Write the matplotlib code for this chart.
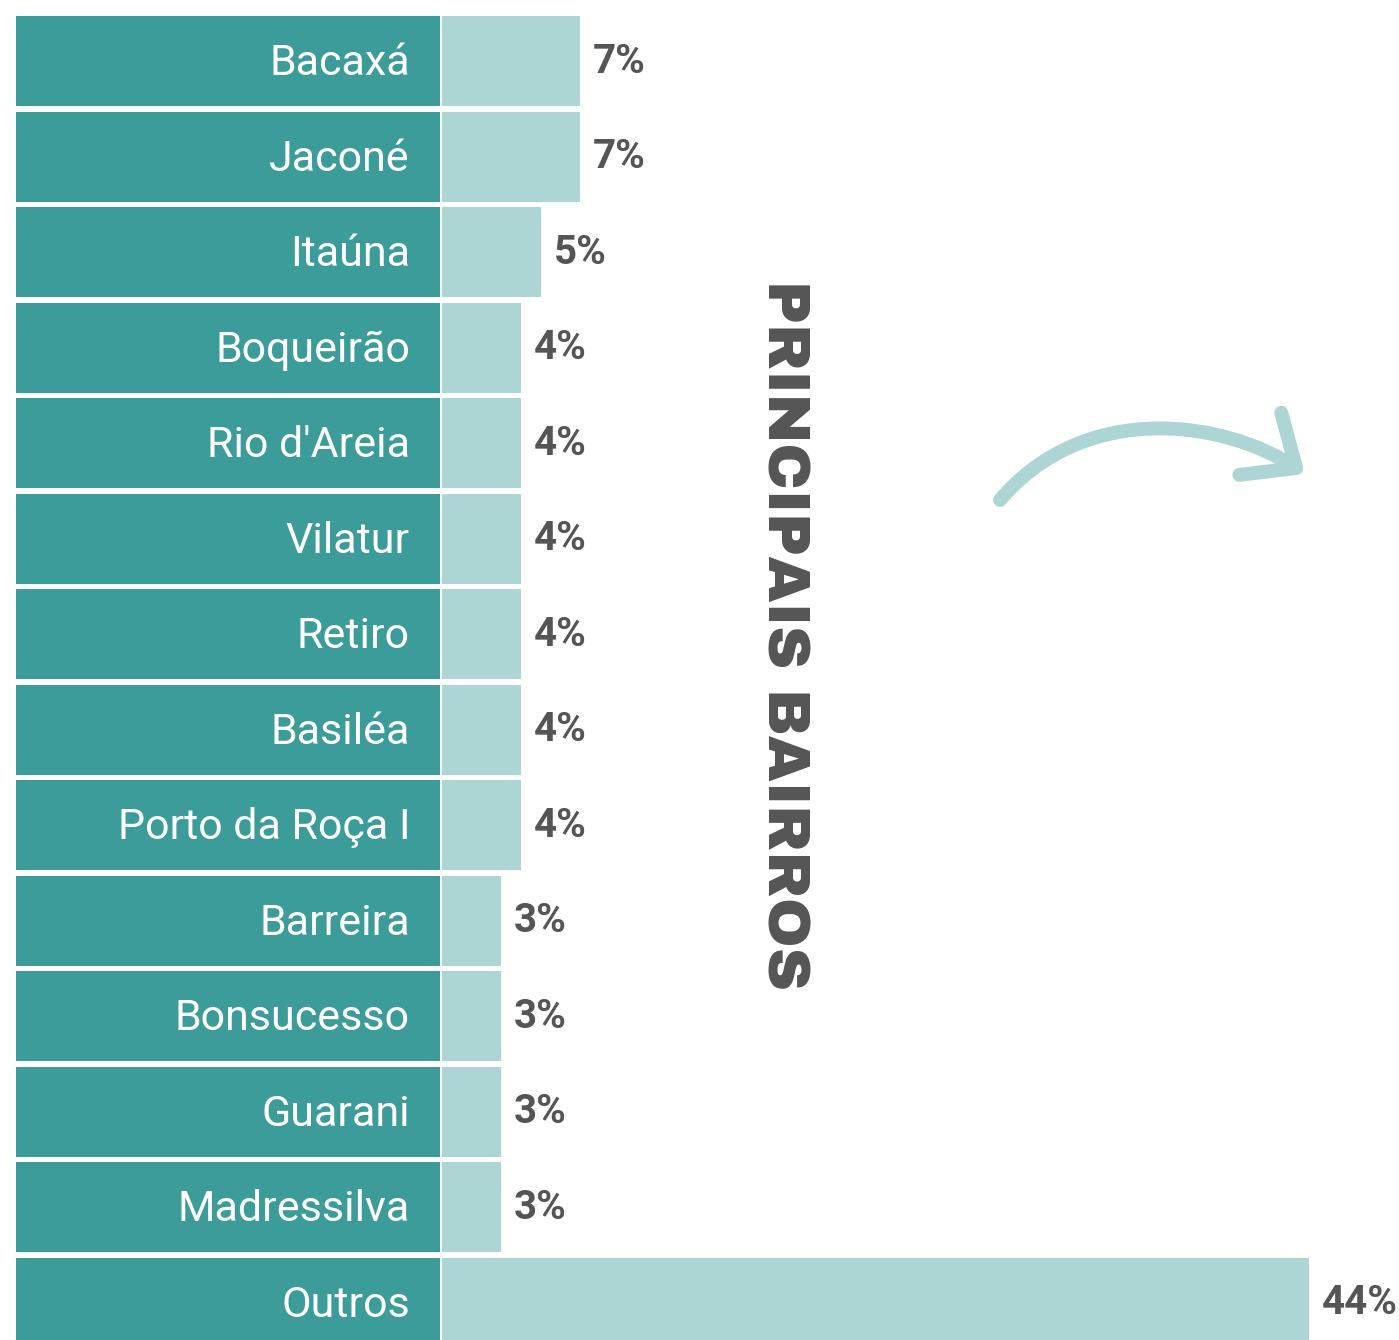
import matplotlib.pyplot as plt
from matplotlib.patches import FancyArrowPatch
from matplotlib.path import Path

# data
bairros = [
    "Bacaxá", "Jaconé", "Itaúna", "Boqueirão", "Rio d'Areia", "Vilatur",
    "Retiro", "Basiléa", "Porto da Roça I", "Barreira", "Bonsucesso",
    "Guarani", "Madressilva", "Outros",
]
percentuais = [7, 7, 5, 4, 4, 4, 4, 4, 4, 3, 3, 3, 3, 44]
titulo = "PRINCIPAIS BAIRROS"

DARK = "#3c9c99"
LIGHT = "#acd5d3"
TEXT = "#555555"
FONT = ["Roboto", "DejaVu Sans"]

W, H = 1399, 1340
fig = plt.figure(figsize=(W / 100, H / 100), dpi=100)
ax = fig.add_axes([0, 0, 1, 1])

# pixel layout -> data units
px_per_pct = 19.7
bar_x0 = 442
row_pitch = 95.5
row0_center = 61
ax.set_xlim(-bar_x0 / px_per_pct, (W - bar_x0) / px_per_pct)
ax.set_ylim((H - row0_center) / row_pitch, -row0_center / row_pitch)
ax.axis("off")

ys = list(range(len(bairros)))
box_left = -(bar_x0 - 16) / px_per_pct
box_width = (bar_x0 - 2 - 16) / px_per_pct
bar_h = 90 / row_pitch

ax.barh(ys, [box_width] * len(ys), left=box_left, height=bar_h, color=DARK)
ax.barh(ys, percentuais, left=0, height=bar_h, color=LIGHT)

label_right = -(bar_x0 - 410) / px_per_pct
for y, nome, p in zip(ys, bairros, percentuais):
    ax.text(label_right, y + 0.03, nome, ha="right", va="center",
            color="white", fontsize=31, family=FONT)
    ax.text(p + 13 / px_per_pct, y + 0.01, f"{p}%", ha="left", va="center",
            color=TEXT, fontsize=29, fontweight="bold", family=FONT)

fig.text(783 / W, 1 - 635 / H, titulo, rotation=-90, ha="center", va="center",
         color=TEXT, fontsize=43, fontweight=900,
         family=["Archivo Black", "Roboto", "DejaVu Sans"])


# curved arrow decoration (pixel points -> figure fraction)
def fpx(x, y):
    return (x / W, 1 - y / H)


curve = Path(
    [fpx(1000, 500), fpx(1085, 400), fpx(1225, 420), fpx(1305, 474)],
    [Path.MOVETO, Path.CURVE4, Path.CURVE4, Path.CURVE4],
)
arrow = FancyArrowPatch(
    path=curve, transform=fig.transFigure,
    arrowstyle="->,head_length=0.52,head_width=0.45", mutation_scale=60,
    color=LIGHT, linewidth=10, capstyle="round", joinstyle="round",
)
fig.patches.append(arrow)

fig.savefig("out.png", dpi=100)
